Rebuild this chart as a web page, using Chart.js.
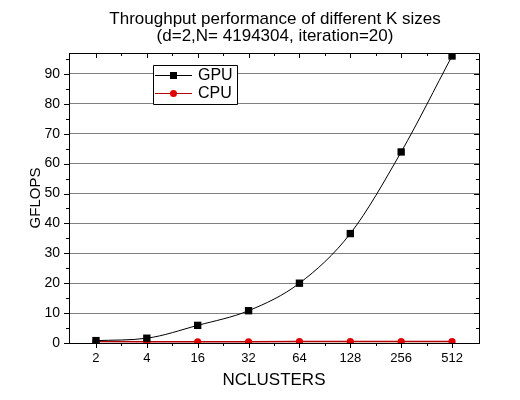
<!DOCTYPE html>
<html>
<head>
<meta charset="utf-8">
<script src="https://cdn.jsdelivr.net/npm/chart.js@4.4.1/dist/chart.umd.min.js"></script>
<style>
  html, body { margin: 0; padding: 0; background: #ffffff; }
  #wrap { width: 520px; height: 400px; position: relative; }
</style>
</head>
<body>
<div id="wrap"><canvas id="c" width="520" height="400"></canvas></div>
<script>
const categories = ['2', '4', '16', '32', '64', '128', '256', '512'];
const gpuValues = [0.8, 1.6, 5.9, 10.8, 20.0, 36.6, 63.9, 96.0];
const cpuValues = [0.5, 0.4, 0.4, 0.4, 0.5, 0.5, 0.5, 0.5];
const yTickValues = [0, 10, 20, 30, 40, 50, 60, 70, 80, 90];
const titleLines = ['Throughput performance of different K sizes', '(d=2,N= 4194304, iteration=20)'];
const seriesNames = ['GPU', 'CPU'];

const FONT = '"Liberation Sans", Arial, sans-serif';

const frameTicks = {
  id: 'frameTicks',
  afterDraw(chart) {
    const ctx = chart.ctx;
    const a = chart.chartArea;
    const xs = chart.scales.x, ys = chart.scales.y;
    ctx.save();

    ctx.fillStyle = '#000';
    ctx.font = '17px ' + FONT;
    ctx.textAlign = 'center';
    ctx.textBaseline = 'middle';
    const cx = (a.left + a.right) / 2 + 1;
    ctx.fillText(titleLines[0], cx, 19);
    ctx.fillText(titleLines[1], cx, 36);

    ctx.strokeStyle = '#000';
    ctx.lineWidth = 1;
    ctx.beginPath();
    ctx.rect(Math.round(a.left) + 0.5, Math.round(a.top) + 0.5,
             Math.round(a.right - a.left), Math.round(a.bottom - a.top));
    ctx.stroke();
    ctx.beginPath();
    for (let i = 0; i < categories.length; i++) {
      const px = Math.round(xs.getPixelForValue(i)) + 0.5;
      ctx.moveTo(px, a.bottom); ctx.lineTo(px, a.bottom + 5);
      ctx.moveTo(px, a.top); ctx.lineTo(px, a.top + 5);
      if (i < categories.length - 1) {
        const mx = Math.round(xs.getPixelForValue(i + 0.5)) + 0.5;
        ctx.moveTo(mx, a.bottom); ctx.lineTo(mx, a.bottom + 3);
        ctx.moveTo(mx, a.top); ctx.lineTo(mx, a.top + 3);
      }
    }
    yTickValues.forEach(v => {
      const py = Math.round(ys.getPixelForValue(v)) + 0.5;
      ctx.moveTo(a.left - 5, py); ctx.lineTo(a.left, py);
      ctx.moveTo(a.right, py); ctx.lineTo(a.right - 5, py);
      const mv = v + 5;
      if (mv <= ys.max) {
        const my = Math.round(ys.getPixelForValue(mv)) + 0.5;
        ctx.moveTo(a.left - 3, my); ctx.lineTo(a.left, my);
        ctx.moveTo(a.right, my); ctx.lineTo(a.right - 3, my);
      }
    });
    ctx.stroke();

    const lx = a.left + 84, ly = a.top + 12, lw = 84, lh = 39;
    ctx.fillStyle = '#fff';
    ctx.fillRect(lx, ly, lw, lh);
    ctx.beginPath();
    ctx.rect(Math.round(lx) + 0.5, Math.round(ly) + 0.5, lw, lh);
    ctx.stroke();
    const ds = chart.data.datasets;
    ds.forEach((d, i) => {
      const cy = ly + 10 + i * 18;
      ctx.strokeStyle = d.borderColor;
      ctx.lineWidth = 1;
      ctx.beginPath();
      ctx.moveTo(lx + 2, cy + 0.5); ctx.lineTo(lx + 39, cy + 0.5);
      ctx.stroke();
      ctx.fillStyle = d.pointBackgroundColor;
      if (i === 0) {
        ctx.fillRect(lx + 17, cy - 3, 7, 7);
      } else {
        ctx.beginPath();
        ctx.arc(lx + 20.5, cy + 0.5, 3.5, 0, Math.PI * 2);
        ctx.fill();
      }
      ctx.fillStyle = '#000';
      ctx.font = '16px ' + FONT;
      ctx.textBaseline = 'middle';
      ctx.textAlign = 'left';
      ctx.fillText(seriesNames[i], lx + 45, cy + 1);
    });
    ctx.restore();
  }
};

new Chart(document.getElementById('c'), {
  type: 'line',
  data: {
    datasets: [
      {
        label: seriesNames[0],
        data: gpuValues.map((v, i) => ({ x: i, y: v })),
        borderColor: '#000000',
        borderWidth: 1,
        pointStyle: 'rect',
        pointRadius: 5.2,
        pointBackgroundColor: '#000000',
        pointBorderWidth: 0,
        cubicInterpolationMode: 'monotone',
        order: 1
      },
      {
        label: seriesNames[1],
        data: cpuValues.map((v, i) => ({ x: i, y: v })),
        borderColor: '#b40000',
        borderWidth: 1.5,
        pointStyle: 'circle',
        pointRadius: 3.6,
        pointBackgroundColor: '#e00000',
        pointBorderWidth: 0,
        order: 2
      }
    ]
  },
  options: {
    responsive: false,
    animation: false,
    devicePixelRatio: 1,
    layout: { padding: { left: 0, right: 41, top: 53, bottom: 0 } },
    plugins: {
      legend: { display: false },
      tooltip: { enabled: false },
      title: { display: false }
    },
    scales: {
      x: {
        type: 'linear',
        min: -0.53,
        max: 7.53,
        afterBuildTicks(scale) {
          scale.ticks = categories.map((c, i) => ({ value: i }));
        },
        afterFit(scale) { scale.height = 57; },
        grid: { display: false, drawTicks: false },
        border: { display: true, color: '#000', width: 1 },
        ticks: {
          color: '#000',
          padding: 8,
          autoSkip: false,
          maxRotation: 0,
          font: { family: FONT, size: 13 },
          callback: (v) => categories[v]
        },
        title: {
          display: true,
          text: 'NCLUSTERS',
          color: '#000',
          font: { family: FONT, size: 17 },
          padding: { top: 0, bottom: 9 }
        }
      },
      y: {
        type: 'linear',
        min: 0,
        max: 97,
        afterBuildTicks(scale) {
          scale.ticks = yTickValues.map(v => ({ value: v }));
        },
        afterFit(scale) { scale.width = 69; },
        grid: {
          drawTicks: false,
          color: (c) => (c.tick && c.tick.value === 0) ? 'rgba(0,0,0,0)' : '#808080',
          lineWidth: 1
        },
        border: { display: true, color: '#000', width: 1 },
        ticks: {
          color: '#000',
          padding: 9,
          font: { family: FONT, size: 14 }
        },
        title: {
          display: true,
          text: 'GFLOPS',
          color: '#000',
          font: { family: FONT, size: 15 },
          padding: { top: 27, bottom: 0 }
        }
      }
    }
  },
  plugins: [frameTicks]
});
</script>
</body>
</html>
